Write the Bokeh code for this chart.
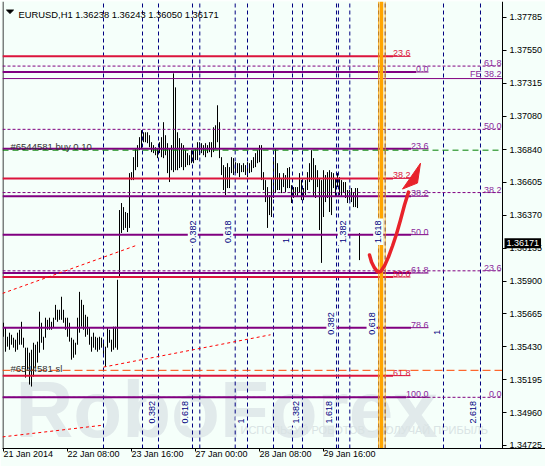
import math
from bokeh.plotting import figure
from bokeh.models import Range1d, FixedTicker, PrintfTickFormatter, Label
from bokeh.core.properties import value
from bokeh.embed import file_html
from bokeh.resources import INLINE

# ---------------- data ----------------
symbol = "EURUSD,H1"
last_ohlc = ["1.36238", "1.36243", "1.36050", "1.36171"]
last_close = 1.36171

bar_high = [
    1.35602, 1.35566, 1.35502, 1.35531, 1.35516, 1.35495, 1.35481, 1.35531, 1.35552, 1.35609,
    1.35495, 1.35424, 1.35424, 1.35388, 1.35409, 1.35459, 1.35445, 1.35467, 1.35681, 1.35602,
    1.35502, 1.35638, 1.35623, 1.35638, 1.35609, 1.35638, 1.35730, 1.35695, 1.35695, 1.35788,
    1.35695, 1.35638, 1.35638, 1.35602, 1.35495, 1.35481, 1.35459, 1.35638, 1.35823, 1.35766,
    1.35730, 1.35659, 1.35645, 1.35566, 1.35502, 1.35531, 1.35502, 1.35495, 1.35502, 1.35495,
    1.35467, 1.35431, 1.35566, 1.35552, 1.35481, 1.35574, 1.35574, 1.35909, 1.36408, 1.36458,
    1.36429, 1.36394, 1.36387, 1.36672, 1.36679, 1.36786, 1.36850, 1.36872, 1.36929, 1.36979,
    1.36964, 1.36964, 1.36964, 1.36943, 1.36893, 1.36872, 1.36857, 1.36850, 1.36893, 1.36929,
    1.37036, 1.36943, 1.36886, 1.36850, 1.36872, 1.37385, 1.37285, 1.36964, 1.36922, 1.36886,
    1.36872, 1.36836, 1.36815, 1.36800, 1.36836, 1.36836, 1.36850, 1.36893, 1.36893, 1.36886,
    1.36872, 1.36886, 1.36872, 1.36893, 1.36893, 1.37000, 1.37014, 1.37157, 1.37036, 1.36786,
    1.36729, 1.36715, 1.36743, 1.36715, 1.36786, 1.36779, 1.36750, 1.36743, 1.36743, 1.36729,
    1.36743, 1.36729, 1.36750, 1.36743, 1.36765, 1.36786, 1.36815, 1.36836, 1.36872, 1.36872,
    1.36679, 1.36622, 1.36572, 1.36515, 1.36636, 1.36786, 1.36850, 1.36743, 1.36672, 1.36636,
    1.36672, 1.36658, 1.36708, 1.36715, 1.36586, 1.36572, 1.36572, 1.36572, 1.36672, 1.36622,
    1.36565, 1.36622, 1.36679, 1.36743, 1.36836, 1.36779, 1.36729, 1.36693, 1.36636, 1.36622,
    1.36693, 1.36658, 1.36679, 1.36693, 1.36679, 1.36672, 1.36636, 1.36672, 1.36643, 1.36622,
    1.36608, 1.36608, 1.36551, 1.36551, 1.36565, 1.36536, 1.36565, 1.36565, 1.36243,
]
bar_low = [
    1.35502, 1.35395, 1.35431, 1.35409, 1.35445, 1.35424, 1.35395, 1.35409, 1.35445, 1.35445,
    1.35424, 1.35210, 1.35267, 1.35160, 1.35146, 1.35217, 1.35281, 1.35317, 1.35388, 1.35459,
    1.35409, 1.35495, 1.35552, 1.35552, 1.35552, 1.35566, 1.35623, 1.35609, 1.35623, 1.35623,
    1.35602, 1.35552, 1.35502, 1.35467, 1.35338, 1.35352, 1.35374, 1.35445, 1.35531, 1.35574,
    1.35552, 1.35502, 1.35516, 1.35445, 1.35395, 1.35424, 1.35409, 1.35395, 1.35409, 1.35424,
    1.35360, 1.35288, 1.35424, 1.35459, 1.35395, 1.35409, 1.35424, 1.35409, 1.35923, 1.36244,
    1.36265, 1.36280, 1.36251, 1.36280, 1.36622, 1.36622, 1.36693, 1.36715, 1.36836, 1.36850,
    1.36893, 1.36893, 1.36886, 1.36857, 1.36822, 1.36815, 1.36800, 1.36779, 1.36815, 1.36786,
    1.36779, 1.36800, 1.36672, 1.36608, 1.36693, 1.36679, 1.36693, 1.36693, 1.36708, 1.36715,
    1.36693, 1.36715, 1.36729, 1.36729, 1.36743, 1.36743, 1.36765, 1.36765, 1.36800, 1.36815,
    1.36800, 1.36786, 1.36815, 1.36822, 1.36786, 1.36822, 1.36850, 1.36893, 1.36779, 1.36658,
    1.36551, 1.36515, 1.36565, 1.36565, 1.36672, 1.36658, 1.36672, 1.36672, 1.36643, 1.36679,
    1.36679, 1.36658, 1.36643, 1.36672, 1.36679, 1.36708, 1.36715, 1.36743, 1.36750, 1.36622,
    1.36551, 1.36465, 1.36280, 1.36372, 1.36358, 1.36494, 1.36529, 1.36551, 1.36551, 1.36529,
    1.36572, 1.36536, 1.36565, 1.36565, 1.36458, 1.36494, 1.36515, 1.36501, 1.36536, 1.36479,
    1.36479, 1.36515, 1.36551, 1.36608, 1.36622, 1.36501, 1.36494, 1.36572, 1.36265, 1.36030,
    1.36358, 1.36465, 1.36494, 1.36394, 1.36372, 1.36565, 1.36501, 1.36572, 1.36515, 1.36501,
    1.36536, 1.36494, 1.36458, 1.36479, 1.36465, 1.36429, 1.36429, 1.36422, 1.36050,
]
bar_index = list(range(len(bar_high)))

x_tick_index = [0, 32, 64, 96, 128, 160]
x_tick_labels = ["21 Jan 2014", "22 Jan 08:00", "23 Jan 16:00",
                 "27 Jan 00:00", "28 Jan 08:00", "29 Jan 16:00"]
y_tick_labels = ["1.37785", "1.37550", "1.37315", "1.37080", "1.36840", "1.36605",
                 "1.36370", "1.36135", "1.35900", "1.35665", "1.35430", "1.35195",
                 "1.34960", "1.34725"]

# Fibonacci retracements (0% price, 100% price, visible levels)
fib_red_p0, fib_red_p100 = 1.38917, 1.32941
fib_red_levels = [23.6, 38.2, 50.0, 61.8]
fib_pur_p0, fib_pur_p100 = 1.37395, 1.35069
fib_pur_levels = [0.0, 23.6, 38.2, 50.0, 61.8, 78.6, 100.0]
fib_dash_p0, fib_dash_p100 = 1.35069, 1.38901
fib_dash_levels = [0.0, 23.6, 38.2, 50.0, 61.8]
fe_price, fe_text = 1.37348, "FE 38.2"

# Fibonacci time zones
tz_ratios = [0.0, 0.382, 0.618, 1.0, 1.382, 1.618, 2.618]
tz_texts = ["", "0.382", "0.618", "1", "1.382", "1.618", "2.618"]
tz_base = [50.0, 69.5, 135.0]
tz_unit = [72.0, 75.0, 85.0]
tz_label_price = [1.34867, 1.36158, 1.35502]

# order lines
buy_price, buy_text = 1.36836, "#6544581 buy 0.10"
sl_price, sl_text = 1.35262, "#6544581 sl"

# red dotted trend lines (bar index, price)
trend_xs = [[-0.5, 67.0], [50.0, 133.5], [-0.5, 50.0]]
trend_ys = [[1.35812, 1.36158], [1.35285, 1.35516], [1.34786, 1.34870]]

# hand drawn arrow (bar index, price)
arrow_x = [183.0, 184.0, 185.5, 187.0, 188.5, 190.5, 192.5, 194.5, 196.5, 198.5, 200.5, 202.5]
arrow_y = [1.36087, 1.36037, 1.35994, 1.35966, 1.35966, 1.36009, 1.36073, 1.36151,
           1.36237, 1.36337, 1.36444, 1.36536]
arrow_head_x = [199.5, 208.5, 207.0]
arrow_head_y = [1.36558, 1.36743, 1.36601]

watermark = "RoboForex"
slogan = "ИСПОЛЬЗУЙ РОБОТОВ – ПОЛУЧАЙ ПРИБЫЛЬ"

# ---------------- style ----------------
BG = "#F5FFFA"
FONT = "Liberation Sans"
FS = "9px"
RED = "#DC143C"
PURPLE = "#800080"
PURPLE_TXT = "#8B2A9B"
NAVY = "#000080"
ORANGE = "#FFA500"

x_lo = -0.5
x_hi = x_lo + 250.0          # right edge of the chart area (price scale starts here)
x_end = x_lo + 271.5         # right edge of the canvas (price scale area inside the frame)
y_lo, y_hi = 1.34703, 1.37899

p = figure(width=545, height=466, output_backend="svg", toolbar_location=None,
           x_range=Range1d(x_lo, x_end), y_range=Range1d(y_lo, y_hi),
           y_axis_location="right",
           min_border_left=2, min_border_right=0, min_border_top=1, min_border_bottom=17)
p.background_fill_color = BG
p.border_fill_color = BG
p.outline_line_color = None
p.grid.visible = False

# axes
p.yaxis.fixed_location = x_hi
p.yaxis.ticker = FixedTicker(ticks=[float(s) for s in y_tick_labels])
p.yaxis.formatter = PrintfTickFormatter(format="%.5f")
p.xaxis.ticker = FixedTicker(ticks=x_tick_index)
p.xaxis.major_label_overrides = {t: s for t, s in zip(x_tick_index, x_tick_labels)}
# a (practically zero) negative angle makes Bokeh left-align the labels at their tick
p.xaxis.major_label_orientation = -0.0001
for ax in (p.xaxis, p.yaxis):
    ax.axis_line_color = "black"
    ax.major_tick_line_color = "black"
    ax.minor_tick_line_color = None
    ax.major_tick_in = 0
    ax.major_label_text_font = FONT
    ax.major_label_text_font_size = FS
    ax.major_label_text_color = "black"
p.yaxis.major_tick_out = 4
p.yaxis.major_label_standoff = 3
p.xaxis.major_tick_out = 3
p.xaxis.major_label_standoff = 2

# watermark
p.text(x=[6.0], y=[1.34981], text=[watermark], text_font=value(FONT),
       text_font_style="bold", text_font_size=value("80px"), text_color="#E1EAEB",
       text_align="left", text_baseline="alphabetic")
p.text(x=[118.5], y=[1.34832], text=[slogan],
       text_font=value(FONT), text_font_size=value("11px"), text_color="#D9E3E4",
       text_align="left", text_baseline="middle")

# bars
p.segment(x0=bar_index, y0=bar_low, x1=bar_index, y1=bar_high,
          line_color="black", line_width=1)

# left border
p.segment(x0=[x_lo + 0.25], y0=[y_lo], x1=[x_lo + 0.25], y1=[y_hi], line_color="black", line_width=1)

# time zone vertical lines
tz_x, tz_lx, tz_ly, tz_lt = [], [], [], []
for b, u, lp in zip(tz_base, tz_unit, tz_label_price):
    for r, t in zip(tz_ratios, tz_texts):
        xv = b + r * u
        if xv <= x_hi:
            tz_x.append(xv)
            if t:
                tz_lx.append(xv - 1.0)
                tz_ly.append(lp)
                tz_lt.append(t)
p.segment(x0=tz_x, y0=[y_lo] * len(tz_x), x1=tz_x, y1=[y_hi] * len(tz_x),
          line_color=NAVY, line_width=1, line_dash="4 3")

def fib_price(p0, p100, lvl):
    return p0 + (p100 - p0) * lvl / 100.0

def lab_w(t):
    return (5.0 * (len(t) - 1) + 2.5) / 2.0

# dashed fib (full width)
dash_y = [fib_price(fib_dash_p0, fib_dash_p100, l) for l in fib_dash_levels]
p.segment(x0=[x_lo] * len(dash_y), y0=dash_y, x1=[x_hi] * len(dash_y), y1=dash_y,
          line_color=PURPLE, line_width=1, line_dash="3 2")
# FE line
p.segment(x0=[x_lo], y0=[fe_price], x1=[x_hi], y1=[fe_price], line_color=PURPLE, line_width=1)

# solid fibs: thick part then thin underline under the label
fib_labels = []
for p0, p100, levels, x_stop, col, tcol in [
        (fib_red_p0, fib_red_p100, fib_red_levels, 203.5, RED, RED),
        (fib_pur_p0, fib_pur_p100, fib_pur_levels, 212.5, PURPLE, PURPLE_TXT)]:
    ys = [fib_price(p0, p100, l) for l in levels]
    ts = ["%.1f" % l for l in levels]
    xm = [x_stop - lab_w(t) for t in ts]
    p.segment(x0=[x_lo] * len(ys), y0=ys, x1=xm, y1=ys, line_color=col, line_width=2)
    p.segment(x0=xm, y0=ys, x1=[x_stop] * len(ys), y1=ys, line_color=col, line_width=1)
    fib_labels.append(([x_stop] * len(ys), ys, ts, tcol))
fib_labels.append(([x_hi - 0.5] * len(dash_y), dash_y, ["%.1f" % l for l in fib_dash_levels], PURPLE_TXT))
fib_labels.append(([x_hi - 0.5], [fe_price], [fe_text], PURPLE_TXT))

# order lines
p.segment(x0=[x_lo], y0=[buy_price], x1=[x_hi], y1=[buy_price], line_color="#008000",
          line_width=1, line_dash="6 4")
p.segment(x0=[x_lo], y0=[sl_price], x1=[x_hi], y1=[sl_price], line_color="#FF4500",
          line_width=1, line_dash="8 4")

# orange highlight between coinciding time zones
hl_a = tz_base[2] + 0.618 * tz_unit[2]
hl_b = tz_base[1] + 1.618 * tz_unit[1]
p.segment(x0=[hl_a, hl_b], y0=[y_lo, y_lo], x1=[hl_a, hl_b], y1=[y_hi, y_hi],
          line_color=ORANGE, line_width=1, line_alpha=0.8)
p.quad(left=[hl_a + 0.5], right=[hl_b - 0.95], bottom=[y_lo], top=[y_hi],
       fill_color=ORANGE, line_color=None)

# time zone labels (with background)
p.text(x=tz_lx, y=tz_ly, text=tz_lt, angle=math.pi / 2, text_font=value(FONT),
       text_font_size=value(FS), text_color=NAVY, text_align="left",
       text_baseline="bottom", background_fill_color=BG, padding=2)

# fib labels
for xs, ys, ts, col in fib_labels:
    p.text(x=xs, y=ys, text=ts, text_font=value(FONT), text_font_size=value(FS),
           text_color=col, text_align="right", text_baseline="bottom")

# order labels
p.text(x=[3.5, 3.5], y=[1.36860, 1.35274], text=[buy_text, sl_text], text_font=value(FONT),
       text_font_size=value("9.5px"), text_color="#333333", text_align="left",
       text_baseline="alphabetic")

# trend lines
p.multi_line(xs=trend_xs, ys=trend_ys, line_color="#FF0000", line_width=1, line_dash="3 3")

# arrow
p.line(x=arrow_x, y=arrow_y, line_color="#E8232A", line_width=3.5,
       line_cap="round", line_join="round")
p.patch(x=arrow_head_x, y=arrow_head_y, fill_color="#E8232A", line_color="#E8232A",
        line_width=1)

# title
p.patch(x=[1.5, 5.0, 3.25], y=[1.37838, 1.37838, 1.37813], fill_color="black", line_color="black")
p.text(x=[7.5], y=[1.37806], text=[symbol + "  " + " ".join(last_ohlc)], text_font=value(FONT),
       text_font_size=value("9.4px"), text_color="black", text_align="left",
       text_baseline="alphabetic")

# last price marker on the price scale
p.add_layout(Label(x=x_hi + 1.0, y=last_close, text="%.5f" % last_close, text_font=FONT,
                   text_font_size=FS, text_color="white", text_baseline="middle",
                   text_align="left", background_fill_color="black", padding=2))

open("out.html", "w").write(file_html(p, INLINE))
